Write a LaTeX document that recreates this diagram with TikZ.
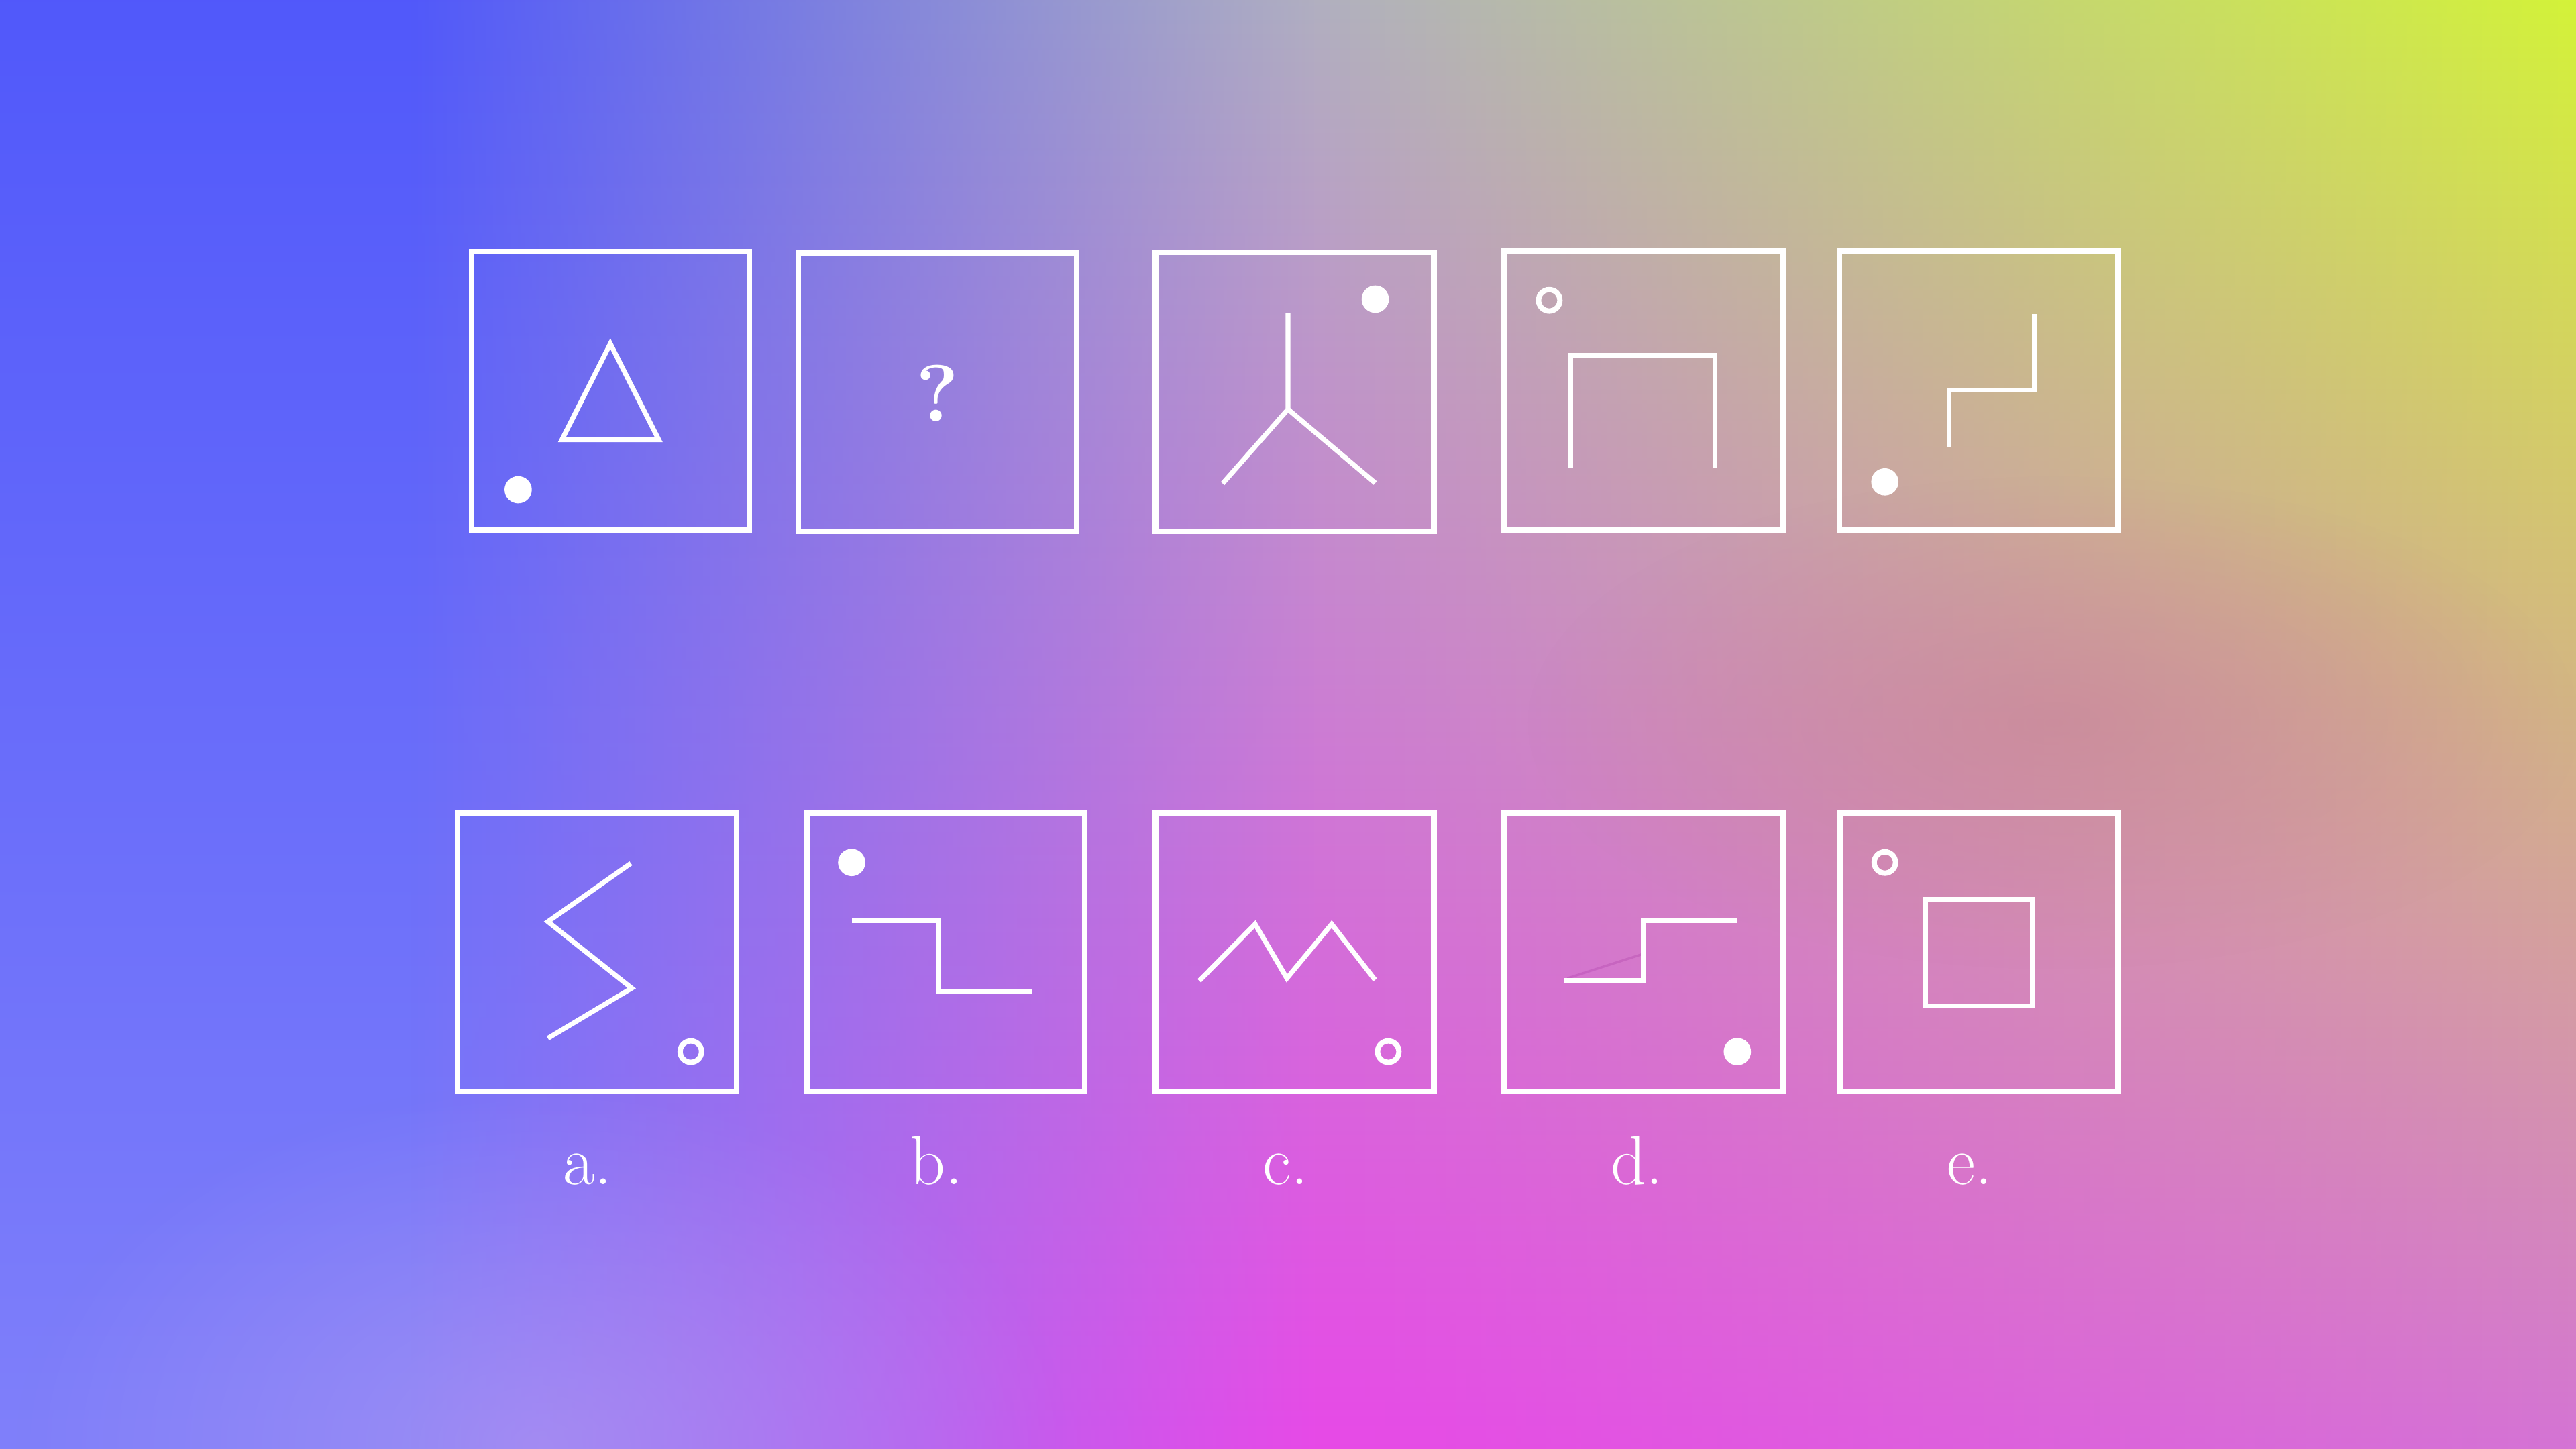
\documentclass[tikz,border=0pt]{standalone}
\usetikzlibrary{fadings}

\definecolor{leftTop}{RGB}{80,88,250}
\definecolor{leftMid}{RGB}{88,88,250}
\definecolor{leftBot}{RGB}{128,128,250}
\definecolor{midTop}{RGB}{176,176,192}
\definecolor{midMid}{RGB}{200,135,215}
\definecolor{midBot}{RGB}{232,72,232}
\definecolor{rightTop}{RGB}{212,245,53}
\definecolor{rightMid}{RGB}{216,196,138}
\definecolor{rightBot}{RGB}{212,115,214}
\definecolor{salmon}{RGB}{200,130,150}
\definecolor{lavender}{RGB}{178,152,240}

\tikzfading[name=fade in, left color=transparent!100, right color=transparent!0]
\tikzfading[name=soft spot, inner color=transparent!0, outer color=transparent!100]

\begin{document}
\begin{tikzpicture}[x=0.025cm, y=-0.025cm,
    tile/.style={draw=white, line width=2.4pt},
    glyph/.style={draw=white, line width=2.1pt},
    hollowdot/.style={draw=white, line width=2.3pt},
    tag/.style={text=white, inner sep=0pt, anchor=base, font=\fontsize{30}{36}\selectfont}]

      % background
      \useasboundingbox (0,0) rectangle (1568,882);
      \shade[top color=leftTop, middle color=leftMid, bottom color=leftBot] (-10,-10) rectangle (1578,892);
      \shade[top color=midTop, middle color=midMid, bottom color=midBot, path fading=fade in] (250,-10) rectangle (801,892);
      \shade[top color=midTop, middle color=midMid, bottom color=midBot] (800,-10) rectangle (1578,892);
      \shade[top color=rightTop, middle color=rightMid, bottom color=rightBot, path fading=fade in] (800,-10) rectangle (1578,892);
      \fill[salmon, opacity=.55, path fading=soft spot] (1250,440) ellipse (320 and 150);
      \fill[lavender, opacity=.6, path fading=soft spot] (330,880) ellipse (320 and 220);

      % top row
      \draw[tile] (287,153) rectangle (456,322.5);
      \draw[glyph] (371.5,209.2) -- (401,267.7) -- (342,267.7) -- cycle;
      \fill[white] (315.4,298.1) circle (8.3);

      \draw[tile] (486,154) rectangle (655.5,323.3);
      \node[text=white, inner sep=0pt, anchor=base, font=\fontsize{35}{40}\selectfont\bfseries] (quest) at (570.6,256.6) {?};

      \draw[tile] (703.4,153.6) rectangle (872.8,323.3);
      \draw[glyph] (784,190.3) -- (784,249.1) -- (744.2,294.3);
      \draw[glyph] (784,249.1) -- (837.1,294);
      \fill[white] (837.1,182.1) circle (8.3);

      \draw[tile] (915.5,152.8) rectangle (1085.3,322.5);
      \draw[hollowdot] (943,182.8) circle (6.5);
      \draw[glyph] (955.9,285.1) -- (955.9,216.3) -- (1043.8,216.3) -- (1043.8,285.1);

      \draw[tile] (1119.7,152.8) rectangle (1289.3,322.5);
      \fill[white] (1147.3,293.3) circle (8.3);
      \draw[glyph] (1186.3,271.9) -- (1186.3,237.5) -- (1238.3,237.5) -- (1238.3,191);

      % bottom row
      \draw[tile] (278.6,495.1) rectangle (448.2,664.5);
      \draw[glyph] (384,525.5) -- (333.5,561) -- (384.5,601.5) -- (333.5,632);
      \draw[hollowdot] (420.5,640.1) circle (6.5);

      \draw[tile] (491.3,495.1) rectangle (660.4,664.5);
      \fill[white] (518.4,525) circle (8.3);
      \draw[glyph] (518.4,560.2) -- (571.1,560.2) -- (571.1,603.3) -- (628.3,603.3);

      \draw[tile] (703.4,495.1) rectangle (872.8,664.5);
      \draw[glyph] (730,597) -- (764,562.5) -- (783.3,595.5) -- (810.6,562.5) -- (837,596.5);
      \draw[hollowdot] (845,640.1) circle (6.5);

      \draw[tile] (915.5,495.1) rectangle (1085.3,664.5);
      \draw[violet, opacity=.15, line width=1pt] (954,595.5) -- (999,581);
      \draw[glyph] (952,596.7) -- (1000.4,596.7) -- (1000.4,560.2) -- (1057.5,560.2);
      \fill[white] (1057.5,640.1) circle (8.3);

      \draw[tile] (1119.8,495.1) rectangle (1289.2,664.5);
      \draw[hollowdot] (1147.3,525) circle (6.5);
      \draw[glyph] (1172,547.4) rectangle (1237,612.3);

      % answer labels
      \node[tag] (laba) at (357.7,720.8) {a.};
      \node[tag] (labb) at (570,720.8) {b.};
      \node[tag] (labc) at (782.5,720.8) {c.};
      \node[tag] (labd) at (996.5,720.8) {d.};
      \node[tag] (labe) at (1198.9,720.8) {e.};
\end{tikzpicture}
\end{document}
